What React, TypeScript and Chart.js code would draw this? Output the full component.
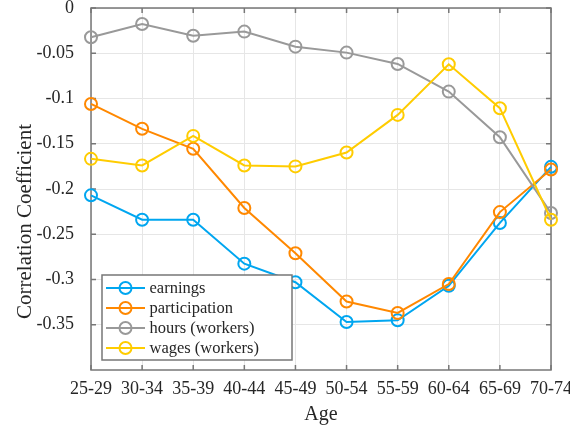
import React, { useEffect, useRef } from "react";
import { Chart, registerables } from "chart.js";

Chart.register(...registerables);

const ageGroups = ["25-29", "30-34", "35-39", "40-44", "45-49", "50-54", "55-59", "60-64", "65-69", "70-74"];
const earnings = [-0.207, -0.234, -0.234, -0.2825, -0.303, -0.347, -0.345, -0.307, -0.2375, -0.1755];
const participation = [-0.106, -0.1335, -0.1555, -0.221, -0.271, -0.3243, -0.337, -0.305, -0.2255, -0.1785];
const hoursWorkers = [-0.0323, -0.0177, -0.0306, -0.0261, -0.0427, -0.0493, -0.0618, -0.0924, -0.1428, -0.2266];
const wagesWorkers = [-0.1667, -0.174, -0.1413, -0.174, -0.175, -0.1597, -0.1181, -0.0622, -0.1107, -0.234];
const seriesLabels = ["earnings", "participation", "hours (workers)", "wages (workers)"];
const seriesColors = ["#00A6F0", "#FF8800", "#999999", "#FFCC00"];
const yTickValues = [0, -0.05, -0.1, -0.15, -0.2, -0.25, -0.3, -0.35];
const yTitle = "Correlation Coefficient";
const xTitle = "Age";

const FONT = "'Liberation Serif', 'Times New Roman', serif";
const TEXT = "#262626";
const AXIS = "#777777";

const boxPlugin = {
  id: "matlabBox",
  beforeDatasetsDraw(chart: any) {
    const { ctx, chartArea: a, scales } = chart;
    ctx.save();
    ctx.strokeStyle = AXIS;
    ctx.lineWidth = 1.5;
    ctx.strokeRect(a.left, a.top, a.right - a.left, a.bottom - a.top);
    const tl = 5;
    ctx.beginPath();
    scales.y.ticks.forEach((t: any) => {
      const y = scales.y.getPixelForValue(t.value);
      ctx.moveTo(a.left, y);
      ctx.lineTo(a.left + tl, y);
      ctx.moveTo(a.right, y);
      ctx.lineTo(a.right - tl, y);
    });
    scales.x.ticks.forEach((_t: any, i: number) => {
      const x = scales.x.getPixelForTick(i);
      ctx.moveTo(x, a.bottom);
      ctx.lineTo(x, a.bottom - tl);
      ctx.moveTo(x, a.top);
      ctx.lineTo(x, a.top + tl);
    });
    ctx.stroke();
    ctx.restore();
  },
  afterDraw(chart: any) {
    const { ctx, chartArea: a } = chart;
    ctx.save();
    // y title
    ctx.translate(25, 221.5);
    ctx.rotate(-Math.PI / 2);
    ctx.fillStyle = TEXT;
    ctx.font = `21px ${FONT}`;
    ctx.textAlign = "center";
    ctx.textBaseline = "middle";
    ctx.fillText(yTitle, 0, 0);
    ctx.restore();

    // legend
    const bx = a.left + 11;
    const bw = 190;
    const rowH = 20;
    const bh = 85;
    const by = a.bottom - 10 - bh;
    ctx.save();
    ctx.fillStyle = "#ffffff";
    ctx.fillRect(bx, by, bw, bh);
    ctx.strokeStyle = AXIS;
    ctx.lineWidth = 1.5;
    ctx.strokeRect(bx, by, bw, bh);
    ctx.font = `16.5px ${FONT}`;
    ctx.textBaseline = "middle";
    ctx.textAlign = "left";
    chart.data.datasets.forEach((ds: any, i: number) => {
      const y = by + 13 + i * rowH;
      ctx.strokeStyle = ds.borderColor;
      ctx.lineWidth = 2;
      ctx.beginPath();
      ctx.moveTo(bx + 4, y);
      ctx.lineTo(bx + 43, y);
      ctx.stroke();
      ctx.beginPath();
      ctx.arc(bx + 23.5, y, 6, 0, Math.PI * 2);
      ctx.stroke();
      ctx.fillStyle = TEXT;
      ctx.fillText(ds.label, bx + 47.5, y + 1);
    });
    ctx.restore();
  },
};

export default function App() {
  const ref = useRef<HTMLCanvasElement | null>(null);
  useEffect(() => {
    document.body.style.margin = "0";
    const seriesData = [earnings, participation, hoursWorkers, wagesWorkers];
    const chart = new Chart(ref.current as HTMLCanvasElement, {
      type: "line",
      data: {
        labels: ageGroups,
        datasets: seriesData.map((d, i) => ({
          label: seriesLabels[i],
          data: d,
          borderColor: seriesColors[i],
          pointBorderColor: seriesColors[i],
          pointBackgroundColor: "rgba(0,0,0,0)",
          borderWidth: 2,
          pointRadius: 6,
          pointBorderWidth: 2,
          tension: 0,
          clip: false as any,
          order: 3 - i,
        })),
      },
      options: {
        animation: false,
        responsive: false,
        devicePixelRatio: 1,
        layout: { padding: { top: 8, right: 19, left: 0, bottom: 0 } },
        plugins: { legend: { display: false }, tooltip: { enabled: false } },
        scales: {
          x: {
            type: "category",
            offset: false,
            grid: { color: "#e6e6e6", drawTicks: false },
            border: { display: false },
            ticks: { font: { family: FONT, size: 18 }, color: TEXT, padding: 8, maxRotation: 0, autoSkip: false },
            title: { display: true, text: xTitle, font: { family: FONT, size: 20 }, color: TEXT, padding: { top: 0, bottom: 0 } },
            afterFit: (s: any) => {
              s.height = 57;
              s.paddingRight = 0;
              s.paddingLeft = 0;
            },
          },
          y: {
            min: -0.4,
            max: 0,
            afterBuildTicks: (s: any) => {
              s.ticks = yTickValues.map((v) => ({ value: v }));
            },
            grid: { color: "#e6e6e6", drawTicks: false },
            border: { display: false },
            ticks: {
              font: { family: FONT, size: 18 },
              color: TEXT,
              padding: 17,
              callback: (v: any) => (Math.abs(v) < 1e-9 ? "0" : String(Math.round(v * 100) / 100)),
            },
            afterFit: (s: any) => {
              s.width = 91;
              s.paddingTop = 0;
              s.paddingBottom = 0;
            },
          },
        },
      },
      plugins: [boxPlugin],
    });
    return () => chart.destroy();
  }, []);
  return (
    <div style={{ position: "absolute", left: 0, top: 0, width: 570, height: 427 }}>
      <canvas ref={ref} width={570} height={427} />
    </div>
  );
}
